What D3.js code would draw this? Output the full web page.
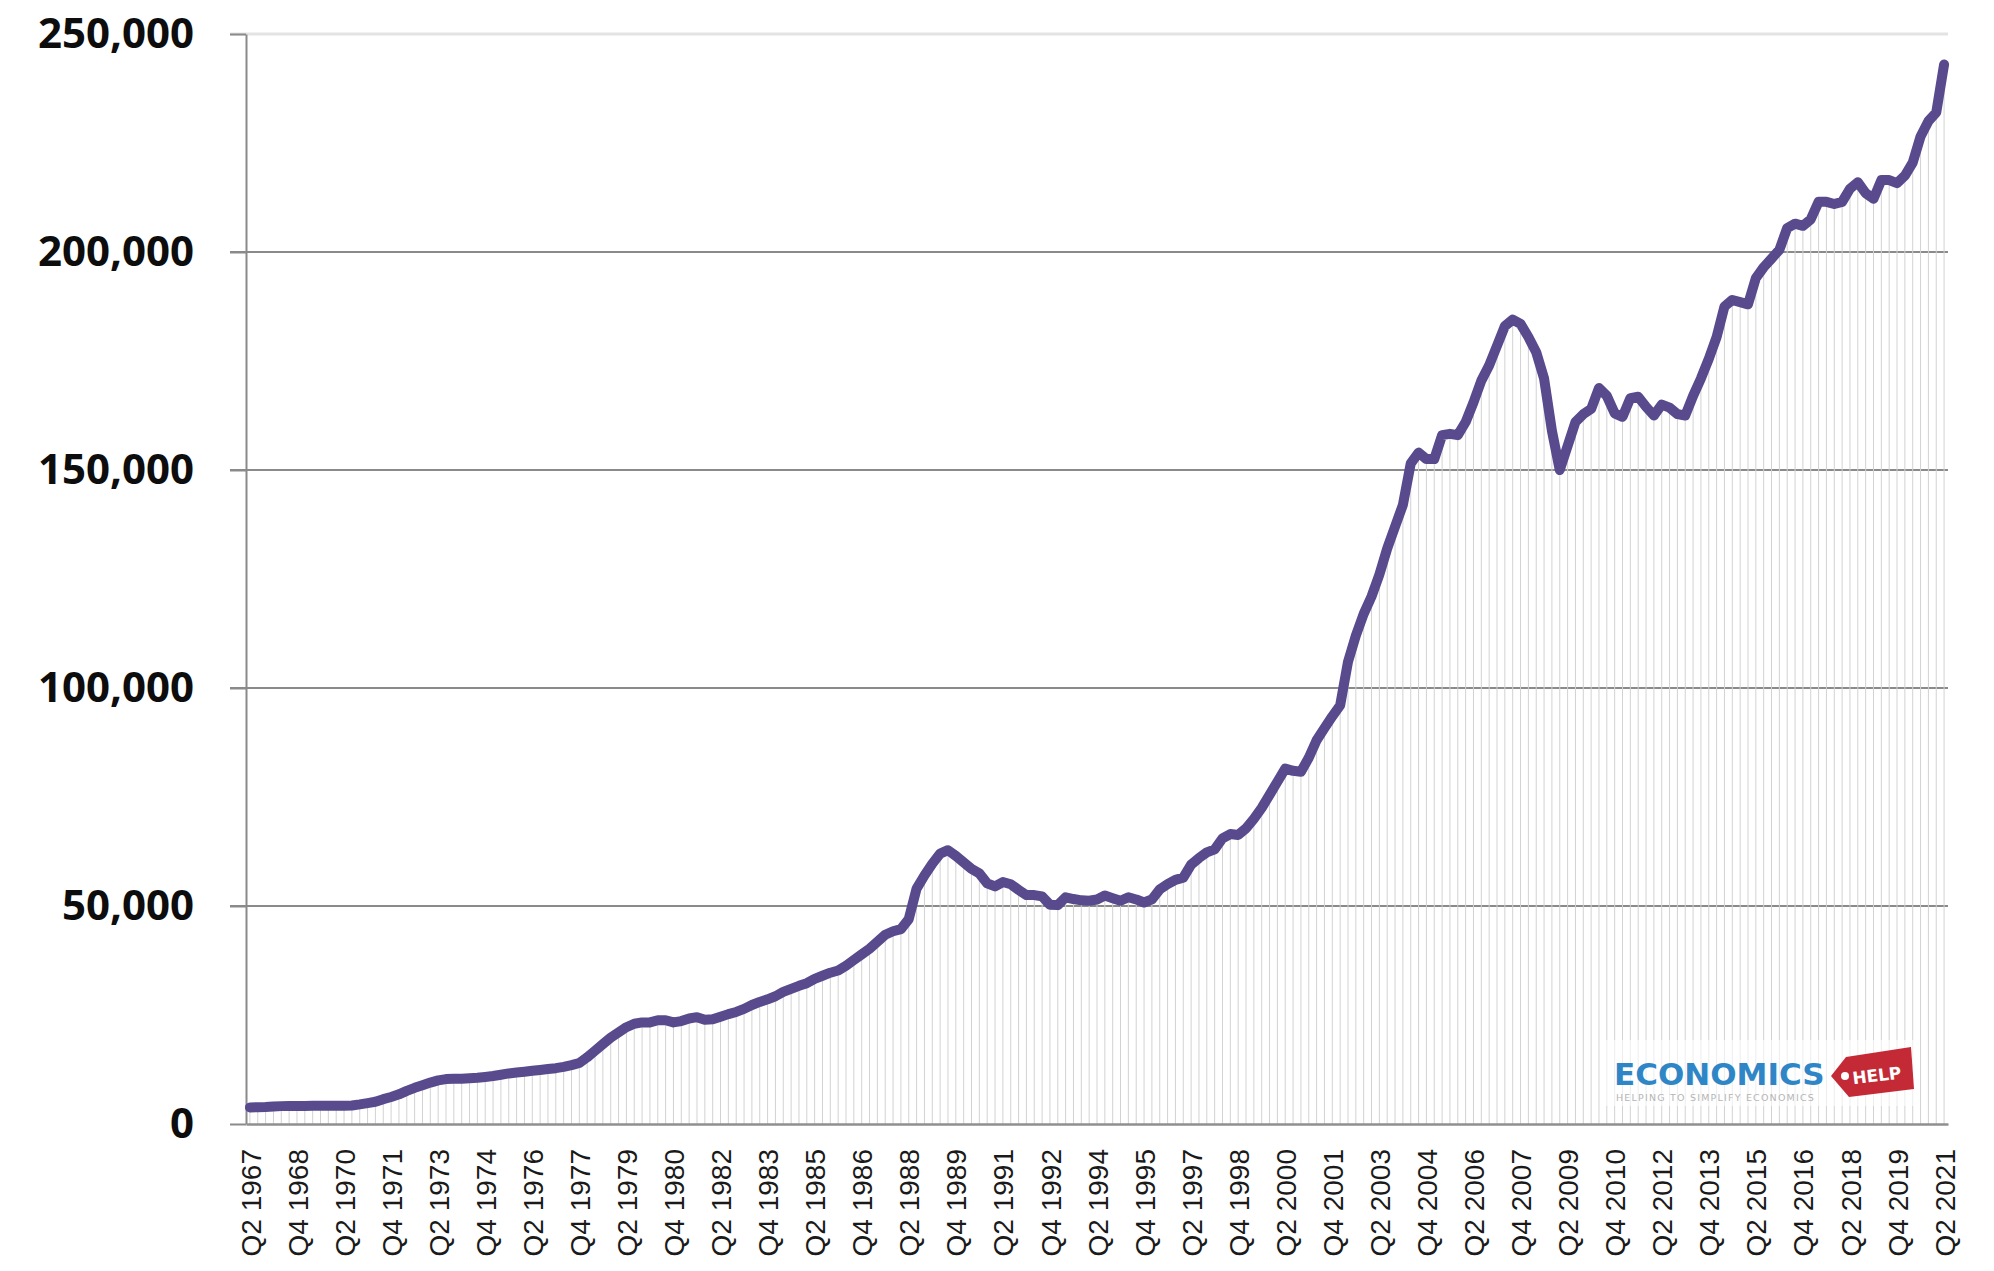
<!DOCTYPE html>
<html><head><meta charset="utf-8">
<script src="https://cdn.jsdelivr.net/npm/d3@7"></script>
<style>body{margin:0;background:#fff}svg{display:block}</style>
</head><body>
<svg id="chart" width="1994" height="1271"></svg>
<script>
// ---- data ----
const startYear = 1967, startQuarter = 2;
const values = [
  3800, 3850, 3900,                 // 1967 Q2-Q4
  4000, 4100, 4150, 4150,           // 1968
  4150, 4200, 4200, 4200,           // 1969
  4200, 4200, 4250, 4500,           // 1970
  4800, 5100, 5700, 6200,           // 1971
  6800, 7600, 8300, 8900,           // 1972
  9500, 10000, 10300, 10400,        // 1973
  10400, 10500, 10600, 10800,       // 1974
  11000, 11300, 11600, 11800,       // 1975
  12000, 12200, 12400, 12600,       // 1976
  12800, 13100, 13500, 14000,       // 1977
  15300, 16800, 18300, 19800,       // 1978
  21000, 22200, 23000, 23300,       // 1979
  23300, 23800, 23800, 23300,       // 1980
  23600, 24200, 24500, 23900,       // 1981
  24000, 24600, 25200, 25700,       // 1982
  26400, 27300, 28000, 28600,       // 1983
  29300, 30300, 31000, 31700,       // 1984
  32300, 33300, 34000, 34700,       // 1985
  35200, 36300, 37600, 38900,       // 1986
  40200, 41800, 43400, 44200,       // 1987
  44700, 47000, 54000, 57000,       // 1988
  59700, 62000, 62800, 61500,       // 1989
  60000, 58500, 57500, 55200,       // 1990
  54500, 55500, 55000, 53700,       // 1991
  52500, 52500, 52200, 50300,       // 1992
  50200, 52000, 51600, 51300,       // 1993
  51200, 51500, 52400, 51800,       // 1994
  51200, 52000, 51500, 50800,       // 1995
  51500, 53800, 55000, 56000,       // 1996
  56500, 59500, 61000, 62300,       // 1997
  63000, 65500, 66500, 66300,       // 1998
  67800, 70000, 72500, 75500,       // 1999
  78500, 81500, 81000, 80800,       // 2000
  84000, 88000, 90800, 93500,       // 2001
  96000, 106000, 112000, 117000,    // 2002
  121000, 126000, 132000, 137000,   // 2003
  142000, 151500, 154000, 152500,   // 2004
  152500, 158000, 158300, 158000,   // 2005
  161000, 165500, 170500, 174000,   // 2006
  178500, 183000, 184500, 183500,   // 2007
  180500, 177000, 171000, 159000,   // 2008
  150000, 155500, 161000, 162800,   // 2009
  164000, 168800, 167000, 163000,   // 2010
  162200, 166500, 166800, 164500,   // 2011
  162500, 165000, 164300, 162800,   // 2012
  162500, 167000, 171000, 175500,   // 2013
  180500, 187500, 189000, 188500,   // 2014
  188000, 194000, 196500, 198500,   // 2015
  200500, 205500, 206500, 206000,   // 2016
  207500, 211500, 211500, 211000,   // 2017
  211500, 214500, 216000, 213500,   // 2018
  212200, 216500, 216500, 215800,   // 2019
  217500, 220500, 226500, 230000,   // 2020
  232000, 243000                    // 2021 Q1-Q2
];
const yTicks = [0, 50000, 100000, 150000, 200000, 250000];
const tickLabels = [
  "Q2 1967","Q4 1968","Q2 1970","Q4 1971","Q2 1973","Q4 1974","Q2 1976","Q4 1977",
  "Q2 1979","Q4 1980","Q2 1982","Q4 1983","Q2 1985","Q4 1986","Q2 1988","Q4 1989",
  "Q2 1991","Q4 1992","Q2 1994","Q4 1995","Q2 1997","Q4 1998","Q2 2000","Q4 2001",
  "Q2 2003","Q4 2004","Q2 2006","Q4 2007","Q2 2009","Q4 2010","Q2 2012","Q4 2013",
  "Q2 2015","Q4 2016","Q2 2018","Q4 2019","Q2 2021"
];
const categories = values.map((v, i) => {
  const k = startQuarter - 1 + i;
  return `Q${k % 4 + 1} ${startYear + Math.floor(k / 4)}`;
});
const data = categories.map((c, i) => ({ cat: c, value: values[i] }));

// ---- layout ----
const L = 246, R = 1948, T = 34, B = 1124;
const svg = d3.select("#chart");
const x = d3.scalePoint().domain(categories).range([L, R]).padding(0.5);
const y = d3.scaleLinear().domain([0, 250000]).range([B, T]);

// horizontal gridlines
svg.append("g").selectAll("line").data(yTicks.filter(d => d > 0)).join("line")
  .attr("x1", L - 16).attr("x2", R)
  .attr("y1", d => y(d)).attr("y2", d => y(d))
  .attr("stroke", d => d === 250000 ? "#e3e3e3" : "#8a8a8a")
  .attr("stroke-width", d => d === 250000 ? 3 : 2);

// drop lines
svg.append("g").selectAll("line").data(data).join("line")
  .attr("x1", d => x(d.cat)).attr("x2", d => x(d.cat))
  .attr("y1", d => y(d.value)).attr("y2", y(0))
  .attr("stroke", "#d2d2d2").attr("stroke-width", 1);

// y axis
const yAxis = svg.append("g").attr("transform", `translate(${L},0)`)
  .call(d3.axisLeft(y).tickValues(yTicks).tickSize(16).tickSizeOuter(0)
    .tickPadding(36).tickFormat(d3.format(",")));
yAxis.select(".domain").attr("stroke", "#8a8a8a").attr("stroke-width", 2);
yAxis.selectAll(".tick line").attr("stroke", "#8a8a8a").attr("stroke-width", 2);
yAxis.selectAll(".tick text")
  .attr("font-family", "'Open Sans', sans-serif").attr("font-weight", 700)
  .attr("font-size", 42).attr("fill", "#0d0d0d");

// x axis
const xAxis = svg.append("g").attr("transform", `translate(0,${B})`)
  .call(d3.axisBottom(x).tickValues(tickLabels).tickSize(0).tickSizeOuter(0));
xAxis.select(".domain").attr("stroke", "#8f8f8f").attr("stroke-width", 2.5);
xAxis.selectAll(".tick text")
  .attr("font-family", "'Liberation Sans', Arial, sans-serif")
  .attr("font-size", 28).attr("fill", "#1a1a1a")
  .attr("transform", "rotate(-90)")
  .attr("text-anchor", "end")
  .attr("x", -25).attr("y", 0).attr("dy", "0.36em");

// line
svg.append("path").datum(data)
  .attr("fill", "none").attr("stroke", "#584a8c").attr("stroke-width", 10)
  .attr("stroke-linejoin", "round").attr("stroke-linecap", "round")
  .attr("d", d3.line().x(d => x(d.cat)).y(d => y(d.value)));

// logo
const logo = svg.append("g");
logo.append("rect").attr("x", 1605).attr("y", 1040).attr("width", 315).attr("height", 66)
  .attr("fill", "#fff").attr("opacity", 0.6);
logo.append("text").attr("x", 1614).attr("y", 1085)
  .attr("font-family", "'DejaVu Sans', sans-serif").attr("font-weight", 700)
  .attr("font-size", 31).attr("fill", "#2f86c6").text("ECONOMICS");
logo.append("path")
  .attr("d", "M1831,1076 L1846,1057 L1911,1047 L1914,1089 L1849,1097 Z")
  .attr("fill", "#c42a35");
logo.append("circle").attr("cx", 1845).attr("cy", 1076).attr("r", 4).attr("fill", "#fff");
logo.append("text").attr("x", 1852).attr("y", 1081)
  .attr("transform", "rotate(-7,1880,1073)")
  .attr("font-family", "'DejaVu Sans', sans-serif").attr("font-weight", 700)
  .attr("font-size", 17).attr("fill", "#fff").text("HELP");
logo.append("text").attr("x", 1616).attr("y", 1101)
  .attr("font-family", "'DejaVu Sans', sans-serif")
  .attr("font-size", 9.5).attr("fill", "#b5b5b5").attr("letter-spacing", 1.2)
  .text("HELPING TO SIMPLIFY ECONOMICS");
</script>
</body></html>
